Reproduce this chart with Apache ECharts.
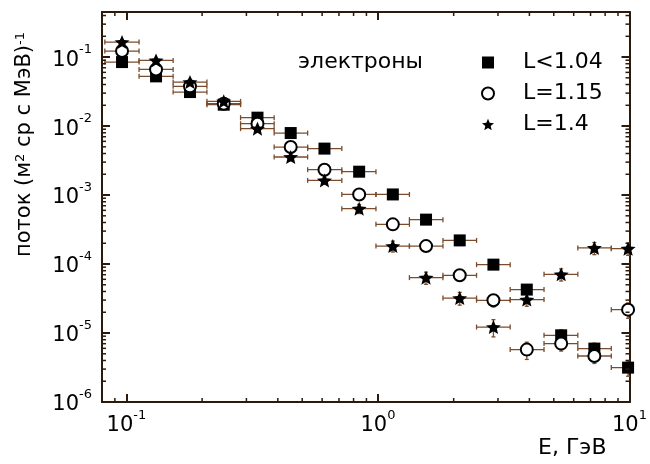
<!DOCTYPE html>
<html>
<head>
<meta charset="utf-8">
<script src="https://cdn.jsdelivr.net/npm/echarts@6/dist/echarts.min.js"></script>
<style>
  html, body { margin: 0; padding: 0; background: #fff; }
  #chart { width: 650px; height: 464px; }
</style>
</head>
<body>
<div id="chart"></div>
<script>
// энергия бинов (ГэВ), края бинов и потоки для трёх L-оболочек
const energy  = [0.0961, 0.1312, 0.179, 0.2438, 0.332, 0.450, 0.613, 0.842, 1.146, 1.553, 2.114, 2.878, 3.906, 5.35, 7.25, 9.87];
const binLow  = [0.0821, 0.1123, 0.1534, 0.2090, 0.2844, 0.3868, 0.5255, 0.7185, 0.982, 1.334, 1.813, 2.466, 3.355, 4.573, 6.23, 8.465];
const binHigh = [0.1123, 0.1534, 0.2090, 0.2844, 0.3868, 0.5255, 0.7185, 0.982, 1.334, 1.813, 2.466, 3.355, 4.573, 6.23, 8.465, 11.52];

const fluxL104 = [0.0846, 0.0525, 0.0311, 0.0204, 0.01323, 0.00792, 0.00471, 0.00218, 0.00102, 0.00044, 0.00022, 9.8e-5, 4.26e-5, 9.26e-6, 5.94e-6, 3.15e-6];
const fluxL115 = [0.1222, 0.0663, 0.0376, 0.0211, 0.01083, 0.00496, 0.00233, 0.00102, 0.000376, 0.000182, 6.86e-5, 2.98e-5, 5.75e-6, 7.02e-6, 4.64e-6, 2.18e-5];
const fluxL14  = [0.165, 0.0895, 0.0434, 0.0228, 0.00917, 0.00356, 0.00163, 0.000635, 0.000182, 6.35e-5, 3.21e-5, 1.22e-5, 3.05e-5, 7.09e-5, 0.000171, 0.000167];

// относительные ошибки потока
const errL104 = [0.08, 0.08, 0.08, 0.08, 0.08, 0.08, 0.08, 0.1, 0.1, 0.1, 0.1, 0.12, 0.15, 0.2, 0.2, 0.25];
const errL115 = [0.1, 0.12, 0.12, 0.1, 0.1, 0.12, 0.12, 0.12, 0.15, 0.15, 0.18, 0.2, 0.28, 0.22, 0.22, 0.25];
const errL14  = [0.08, 0.08, 0.1, 0.1, 0.1, 0.12, 0.12, 0.15, 0.18, 0.2, 0.21, 0.28, 0.2, 0.2, 0.2, 0.2];

const seriesNames = ['L<1.04', 'L=1.15', 'L=1.4'];

const xDecades = [0.01, 0.1, 1];
const yDecades = [1e-6, 1e-5, 1e-4, 1e-3, 1e-2, 1e-1];
const minorSteps = [2, 3, 4, 5, 6, 7, 8, 9];

const X_MIN = 0.08, X_MAX = 10, Y_MIN = 1e-6, Y_MAX = 0.45;
const FONT = 'DejaVu Sans';
const AXIS_COLOR = '#2b190c';
const ERR_COLOR = '#7a4b2c';
const STAR = 'path://M50 0 L63.23 31.8 L97.55 34.55 L71.4 56.95 L79.39 90.45 L50 72.5 L20.61 90.45 L28.6 56.95 L2.45 34.55 L36.77 31.8 Z';

const xMinor = [];
xDecades.forEach(d => minorSteps.forEach(m => { const v = d * m; if (v > X_MIN && v < X_MAX) xMinor.push(v); }));
const yMinor = [];
yDecades.forEach(d => minorSteps.forEach(m => { const v = d * m; if (v > Y_MIN && v < Y_MAX) yMinor.push(v); }));

function powLabel(value) {
    const e = Math.round(Math.log10(value));
    if (Math.abs(Math.log10(value) - e) > 1e-6) return '';
    return '{b|10}{s|' + e + '}';
}

const labelRich = {
    b: { fontFamily: FONT, fontSize: 21, color: '#000', lineHeight: 27, verticalAlign: 'bottom' },
    s: { fontFamily: FONT, fontSize: 13, color: '#000', lineHeight: 14, verticalAlign: 'top' }
};

function errData(flux, err) {
    return energy.map((x, i) => [x, flux[i], binLow[i], binHigh[i], flux[i] * (1 - err[i]), flux[i] * (1 + err[i])]);
}

function renderErr(params, api) {
    const c = api.coord([api.value(0), api.value(1)]);
    const l = api.coord([api.value(2), api.value(1)]);
    const r = api.coord([api.value(3), api.value(1)]);
    const lo = api.coord([api.value(0), api.value(4)]);
    const hi = api.coord([api.value(0), api.value(5)]);
    const style = { stroke: ERR_COLOR, lineWidth: 1.3 };
    const line = (x1, y1, x2, y2) => ({ type: 'line', shape: { x1, y1, x2, y2 }, style });
    return {
        type: 'group',
        children: [
            line(l[0], c[1], r[0], c[1]),
            line(l[0], c[1] - 2.5, l[0], c[1] + 2.5),
            line(r[0], c[1] - 2.5, r[0], c[1] + 2.5),
            line(c[0], lo[1], c[0], hi[1]),
            line(c[0] - 2, lo[1], c[0] + 2, lo[1]),
            line(c[0] - 2, hi[1], c[0] + 2, hi[1])
        ]
    };
}

function renderMinorX(params, api) {
    const cs = params.coordSys;
    const x = api.coord([api.value(0), 1e-3])[0];
    const style = { stroke: AXIS_COLOR, lineWidth: 1.5 };
    return {
        type: 'group',
        children: [
            { type: 'line', shape: { x1: x, y1: cs.y + cs.height, x2: x, y2: cs.y + cs.height - 4 }, style },
            { type: 'line', shape: { x1: x, y1: cs.y, x2: x, y2: cs.y + 4 }, style }
        ]
    };
}

function renderMinorY(params, api) {
    const cs = params.coordSys;
    const y = api.coord([1, api.value(0)])[1];
    const style = { stroke: AXIS_COLOR, lineWidth: 1.5 };
    return {
        type: 'group',
        children: [
            { type: 'line', shape: { x1: cs.x, y1: y, x2: cs.x + 4, y2: y }, style },
            { type: 'line', shape: { x1: cs.x + cs.width, y1: y, x2: cs.x + cs.width - 4, y2: y }, style }
        ]
    };
}

const baseAxis = {
    type: 'log',
    logBase: 10,
    axisLine: { show: true, lineStyle: { color: AXIS_COLOR, width: 2 } },
    axisTick: { show: true, inside: true, length: 8, lineStyle: { color: AXIS_COLOR, width: 2 } },
    splitLine: { show: false }
};

const option = {
    animation: false,
    backgroundColor: '#fff',
    grid: { left: 102, right: 15, top: 12, bottom: 62 },
    xAxis: [
        Object.assign({}, baseAxis, {
            position: 'bottom', min: X_MIN, max: X_MAX,
            axisLabel: { formatter: powLabel, rich: labelRich, margin: 7, showMinLabel: true, showMaxLabel: true }
        }),
        Object.assign({}, baseAxis, {
            position: 'top', min: X_MIN, max: X_MAX, axisLabel: { show: false }
        })
    ],
    yAxis: [
        Object.assign({}, baseAxis, {
            position: 'left', min: Y_MIN, max: Y_MAX,
            axisLabel: { formatter: powLabel, rich: labelRich, margin: 10 }
        }),
        Object.assign({}, baseAxis, {
            position: 'right', min: Y_MIN, max: Y_MAX, axisLabel: { show: false }
        })
    ],
    legend: {
        orient: 'vertical',
        left: 476,
        top: 46,
        itemWidth: 12,
        itemHeight: 12,
        itemGap: 8,
        data: seriesNames,
        textStyle: { fontFamily: FONT, fontSize: 22, color: '#000', lineHeight: 23, padding: [0, 0, 0, 24] }
    },
    graphic: [
        { type: 'text', left: 298, top: 51, style: { text: 'электроны', font: '22px "DejaVu Sans"', fill: '#000' } },
        { type: 'text', left: 538, top: 437, style: { text: 'E, ГэВ', font: '22px "DejaVu Sans"', fill: '#000' } },
        {
            type: 'text', x: 14, y: 257, rotation: Math.PI / 2,
            style: {
                text: 'поток (м{s|2} ср с МэВ){s|-1}',
                font: '21px "DejaVu Sans"', fill: '#000',
                rich: {
                    s: { fontFamily: FONT, fontSize: 13, verticalAlign: 'top', lineHeight: 13 }
                }
            }
        }
    ],
    series: [
        { type: 'custom', name: 'minorX', renderItem: renderMinorX, data: xMinor.map(v => [v]), encode: { x: 0 }, clip: false, silent: true, z: 5 },
        { type: 'custom', name: 'minorY', renderItem: renderMinorY, data: yMinor.map(v => [v]), encode: { y: 0 }, clip: false, silent: true, z: 5 },
        { type: 'custom', name: 'errL104', renderItem: renderErr, data: errData(fluxL104, errL104), encode: { x: 0, y: 1 }, clip: true, z: 2 },
        { type: 'custom', name: 'errL115', renderItem: renderErr, data: errData(fluxL115, errL115), encode: { x: 0, y: 1 }, clip: true, z: 2 },
        { type: 'custom', name: 'errL14', renderItem: renderErr, data: errData(fluxL14, errL14), encode: { x: 0, y: 1 }, clip: true, z: 2 },
        {
            type: 'scatter', name: seriesNames[0], symbol: 'rect', symbolSize: 12, z: 3,
            itemStyle: { color: '#000', opacity: 1 },
            data: energy.map((x, i) => [x, fluxL104[i]])
        },
        {
            type: 'scatter', name: seriesNames[1], symbol: 'circle', symbolSize: 12, z: 4,
            itemStyle: { color: '#fff', borderColor: '#000', borderWidth: 2, opacity: 1 },
            data: energy.map((x, i) => [x, fluxL115[i]])
        },
        {
            type: 'scatter', name: seriesNames[2], symbol: STAR, symbolSize: [15, 14], z: 5,
            itemStyle: { color: '#000', opacity: 1 },
            data: energy.map((x, i) => [x, fluxL14[i]])
        }
    ]
};

const chart = echarts.init(document.getElementById('chart'), null, { renderer: 'canvas' });
chart.setOption(option);
</script>
</body>
</html>
